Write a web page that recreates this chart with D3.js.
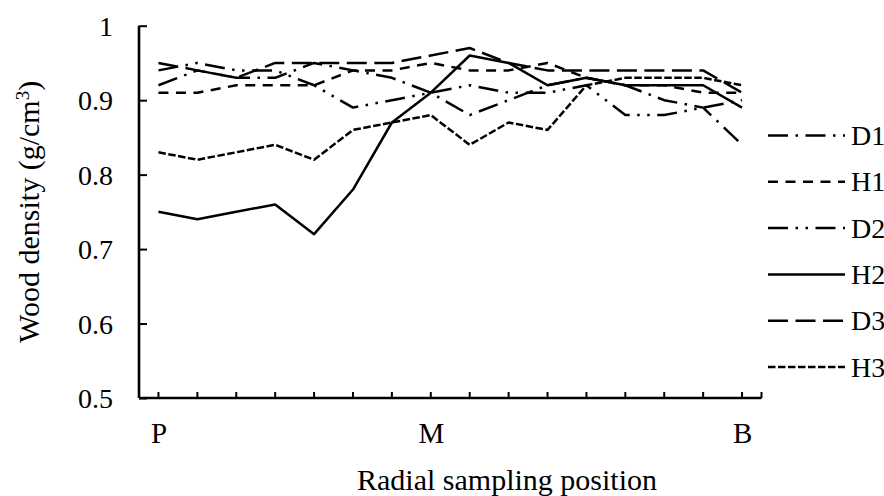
<!DOCTYPE html>
<html>
<head>
<meta charset="utf-8">
<script src="https://cdn.jsdelivr.net/npm/d3@7"></script>
<style>
  html, body { margin: 0; padding: 0; background: #fff; }
  svg text { font-family: "Liberation Serif", "Times New Roman", serif; fill: #000; }
</style>
</head>
<body>
<svg id="chart" width="884" height="496"></svg>
<script>
// ---- data ----
const positions = ["P","","","","","","","M","","","","","","","","B"];
const seriesNames = ["D1","H1","D2","H2","D3","H3"];
const D1 = [0.92,0.94,0.93,0.93,0.95,0.94,0.93,0.91,0.88,0.90,0.92,0.93,0.92,0.90,0.89,0.84];
const H1 = [0.91,0.91,0.92,0.92,0.92,0.94,0.94,0.95,0.94,0.94,0.95,0.93,0.92,0.92,0.91,0.91];
const D2 = [0.94,0.95,0.94,0.94,0.92,0.89,0.90,0.91,0.92,0.91,0.91,0.92,0.88,0.88,0.89,0.90];
const H2 = [0.75,0.74,0.75,0.76,0.72,0.78,0.87,0.91,0.96,0.95,0.92,0.93,0.92,0.92,0.92,0.89];
const D3 = [0.95,0.94,0.93,0.95,0.95,0.95,0.95,0.96,0.97,0.95,0.94,0.94,0.94,0.94,0.94,0.91];
const H3 = [0.83,0.82,0.83,0.84,0.82,0.86,0.87,0.88,0.84,0.87,0.86,0.92,0.93,0.93,0.93,0.92];
const yTicks = [0.5,0.6,0.7,0.8,0.9,1];
const yTickLabels = ["0.5","0.6","0.7","0.8","0.9","1"];

const seriesValues = [D1,H1,D2,H2,D3,H3];
const w = 2.5;
const dashes = [
  [8*w,3*w,1*w,3*w],            // D1 long dash dot
  [4*w,3*w],                    // H1 dash
  [8*w,3*w,1*w,3*w,1*w,3*w],    // D2 long dash dot dot
  null,                         // H2 solid
  [8*w,3*w],                    // D3 long dash
  [3*w,1*w]                     // H3 square dash
];

const svg = d3.select("#chart");
const pL = 139, pR = 761.5, pT = 25.7, pB = 398;

const x = d3.scalePoint().domain(d3.range(positions.length)).range([pL, pR]).padding(0.5);
const y = d3.scaleLinear().domain([0.5, 1]).range([pB, pT]);

// lines
const line = d3.line().x((d,i) => x(i)).y(d => y(d));
seriesValues.forEach((vals, k) => {
  svg.append("path")
    .attr("d", line(vals))
    .attr("fill", "none")
    .attr("stroke", "#000")
    .attr("stroke-width", w)
    .attr("stroke-linejoin", "round")
    .attr("stroke-dasharray", dashes[k] ? dashes[k].join(",") : null);
});

// y axis
const yAxis = d3.axisLeft(y).tickValues(yTicks).tickSize(-8).tickPadding(0)
  .tickFormat((d,i) => yTickLabels[i]);
const gy = svg.append("g").attr("transform", `translate(${pL},0)`).call(yAxis);
gy.select(".domain").attr("stroke", "#000").attr("stroke-width", 2.6).attr("d", `M0,${pT}V${pB}`);
gy.selectAll(".tick line").attr("stroke", "#000").attr("stroke-width", 2);
gy.selectAll(".tick text").attr("x", -26).attr("dy", "0.34em")
  .style("font-size", "28px").attr("font-family", null);

// x axis
const xAxis = d3.axisBottom(x).tickSize(0).tickFormat((d) => positions[d]);
const gx = svg.append("g").attr("transform", `translate(0,${pB})`).call(xAxis);
gx.select(".domain").attr("stroke", "#000").attr("stroke-width", 2.6).attr("d", `M${pL},0H${pR}`);
gx.selectAll(".tick text").attr("y", 45).attr("dy", null).style("font-size", "29px").attr("font-family", null);
const xTickPos = d3.range(positions.length).map(i => x(i)).concat([pR]);
gx.selectAll("line.xt").data(xTickPos).enter().append("line")
  .attr("class","xt")
  .attr("x1", d => d).attr("x2", d => d)
  .attr("y1", 0).attr("y2", -6)
  .attr("stroke", "#000").attr("stroke-width", 2);

// axis titles
svg.append("text")
  .attr("x", 357).attr("y", 490)
  .attr("text-anchor", "start")
  .style("font-size", "30px")
  .text("Radial sampling position");

const yt = svg.append("text")
  .attr("transform", `translate(39,${(pT+pB)/2}) rotate(-90)`)
  .attr("text-anchor", "middle")
  .style("font-size", "30px");
yt.append("tspan").text("Wood density (g/cm");
yt.append("tspan").attr("baseline-shift", "super").style("font-size", "19px").text("3");
yt.append("tspan").text(")");

// legend
const legY0 = 135.5, legStep = 46.3;
seriesNames.forEach((name, k) => {
  const ly = legY0 + k * legStep;
  svg.append("line")
    .attr("x1", 768).attr("x2", 845).attr("y1", ly).attr("y2", ly)
    .attr("stroke", "#000").attr("stroke-width", w)
    .attr("stroke-dasharray", dashes[k] ? dashes[k].join(",") : null);
  svg.append("text")
    .attr("x", 851).attr("y", ly).attr("dy", "0.34em")
    .style("font-size", "28px")
    .text(name);
});
</script>
</body>
</html>
